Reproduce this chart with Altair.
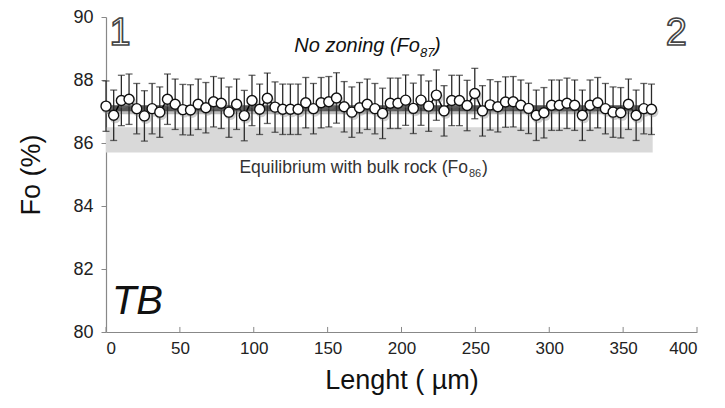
import altair as alt
import pandas as pd

# Data
length_um = [0.0, 5.2, 10.4, 15.6, 20.8, 26.0, 31.2, 36.4, 41.6, 46.8, 52.0, 57.2,
             62.4, 67.6, 72.8, 78.0, 83.2, 88.4, 93.6, 98.8, 104.0, 109.2, 114.4, 119.6,
             124.8, 130.0, 135.2, 140.4, 145.6, 150.8, 156.0, 161.2, 166.4, 171.6, 176.8, 182.0,
             187.2, 192.4, 197.6, 202.8, 208.0, 213.2, 218.4, 223.6, 228.8, 234.0, 239.2, 244.4,
             249.6, 254.8, 260.0, 265.2, 270.4, 275.6, 280.8, 286.0, 291.2, 296.4, 301.6, 306.8,
             312.0, 317.2, 322.4, 327.6, 332.8, 338.0, 343.2, 348.4, 353.6, 358.8, 364.0, 369.2]
fo = [87.17, 86.88, 87.35, 87.39, 87.09, 86.86, 87.09, 86.98, 87.39, 87.23, 87.06, 87.05,
      87.23, 87.12, 87.31, 87.26, 86.98, 87.23, 86.87, 87.35, 87.07, 87.42, 87.14, 87.07,
      87.07, 87.07, 87.28, 87.09, 87.28, 87.31, 87.43, 87.15, 86.98, 87.12, 87.23, 87.09,
      86.94, 87.26, 87.26, 87.36, 87.10, 87.36, 87.17, 87.52, 87.02, 87.35, 87.35, 87.19,
      87.57, 87.02, 87.21, 87.15, 87.30, 87.31, 87.20, 87.10, 86.88, 86.96, 87.20, 87.20,
      87.26, 87.20, 86.88, 87.20, 87.28, 87.09, 86.98, 86.96, 87.23, 86.88, 87.09, 87.07]
err = [0.8] * len(fo)

mean_x = [0, 370]
mean_fo = [87.1, 87.1]
band_x = [0, 370]
band_fo = [85.7, 86.5]
x_ticks = [0, 50, 100, 150, 200, 250, 300, 350, 400]
y_ticks = [80, 82, 84, 86, 88, 90]

FONT = "Liberation Sans"

df = pd.DataFrame({"x": length_um, "fo": fo, "err": err})
df["lo"] = df["fo"] - df["err"]
df["hi"] = df["fo"] + df["err"]

xs = alt.Scale(domain=[0, 400], nice=False, zero=False)
ys = alt.Scale(domain=[80, 90], nice=False, zero=False)

X = alt.X("x:Q", scale=xs,
          axis=alt.Axis(values=x_ticks, title="Lenght ( µm)", ticks=False,
                        labelPadding=8, titlePadding=11, format="d"))
Y = alt.Y("fo:Q", scale=ys,
          axis=alt.Axis(values=y_ticks, title="Fo (%)", tickSize=5,
                        labelPadding=8, titlePadding=27, format="d", labelFontSize=18))

band_df = pd.DataFrame({"x": [band_x[0]], "x2": [band_x[1]],
                        "fo": [band_fo[0]], "fo2": [band_fo[1]]})
band = alt.Chart(band_df).mark_rect(color="#d9d9d9").encode(
    x=X, x2="x2:Q", y=Y, y2="fo2:Q")

mean_df = pd.DataFrame({"x": mean_x, "fo": mean_fo})
mean_shadow = alt.Chart(mean_df).mark_line(color="#bdbdbd", strokeWidth=8, yOffset=2).encode(x=X, y=Y)
mean_line = alt.Chart(mean_df).mark_line(color="#555555", strokeWidth=6).encode(x=X, y=Y)

base = alt.Chart(df)
bars = base.mark_rule(color="#2a2a2a", strokeWidth=1.3).encode(
    x=X, y=alt.Y("lo:Q", scale=ys), y2="hi:Q")
caps_hi = base.mark_tick(color="#2a2a2a", thickness=1.3, size=7, orient="horizontal").encode(
    x=X, y=alt.Y("hi:Q", scale=ys))
caps_lo = base.mark_tick(color="#2a2a2a", thickness=1.3, size=7, orient="horizontal").encode(
    x=X, y=alt.Y("lo:Q", scale=ys))
conn = base.mark_line(color="#000000", strokeWidth=1.5).encode(x=X, y=Y)
shadow = base.mark_point(shape="circle", filled=True, color="#777777", opacity=0.35,
                         size=120, xOffset=1.5, yOffset=2.5).encode(x=X, y=Y)
pts = base.mark_point(shape="circle", filled=True, fill="white", stroke="#111111",
                      strokeWidth=1.4, opacity=1, size=100).encode(x=X, y=Y)

tick_df = pd.DataFrame({"x": x_ticks, "fo": [80] * len(x_ticks), "fo2": [80.16] * len(x_ticks)})
xticks = alt.Chart(tick_df).mark_rule(color="#888888", strokeWidth=1).encode(
    x=X, y=Y, y2="fo2:Q")

def label(text, x, y, **kw):
    d = pd.DataFrame({"x": [x], "fo": [y], "t": [text]})
    return alt.Chart(d).mark_text(font=FONT, **kw).encode(x=X, y=Y, text="t:N")

t1 = label("1", 9.5, 89.45, fontSize=38, fill="white", stroke="#444444", strokeWidth=1.6,
           baseline="middle", align="center")
t2 = label("2", 386, 89.45, fontSize=38, fill="white", stroke="#444444", strokeWidth=1.6,
           baseline="middle", align="center")

# "No zoning (Fo87)" with subscript
za = 212.5
zy = 89.08
tz1 = label("No zoning (Fo", za, zy, fontSize=20, fontStyle="italic", color="#111111",
            baseline="middle", align="right")
tz2 = label("87", za, zy, fontSize=13, fontStyle="italic", color="#111111",
            baseline="middle", align="left", dx=0, dy=7)
tz3 = label(")", za, zy, fontSize=20, fontStyle="italic", color="#111111",
            baseline="middle", align="left", dx=14)

# "Equilibrium with bulk rock (Fo86)" with subscript
ea = 245
ey = 85.2
te1 = label("Equilibrium with bulk rock (Fo", ea, ey, fontSize=17.5, color="#333333",
            baseline="middle", align="right")
te2 = label("86", ea, ey, fontSize=11, color="#333333",
            baseline="middle", align="left", dx=1, dy=6)
te3 = label(")", ea, ey, fontSize=17.5, color="#333333",
            baseline="middle", align="left", dx=14)

ttb = label("TB", 4, 80.95, fontSize=40, fontStyle="italic", color="#111111",
            baseline="middle", align="left")

chart = alt.layer(band, mean_shadow, mean_line, bars, caps_hi, caps_lo, conn, shadow, pts,
                  xticks, t1, t2, tz1, tz2, tz3, te1, te2, te3, ttb).properties(
    width=591, height=315,
    autosize=alt.AutoSizeParams(type="none"),
    padding={"left": 106, "top": 17, "right": 28, "bottom": 76},
).configure_view(stroke=None).configure_axis(
    grid=False, domainColor="#888888", tickColor="#888888", domainWidth=1.2,
    labelFont=FONT, labelFontSize=17, labelColor="#222222",
    titleFont=FONT, titleFontSize=27, titleFontWeight="normal", titleColor="#111111",
)

chart.save("out.html", embed_options={"renderer": "svg", "actions": False})
